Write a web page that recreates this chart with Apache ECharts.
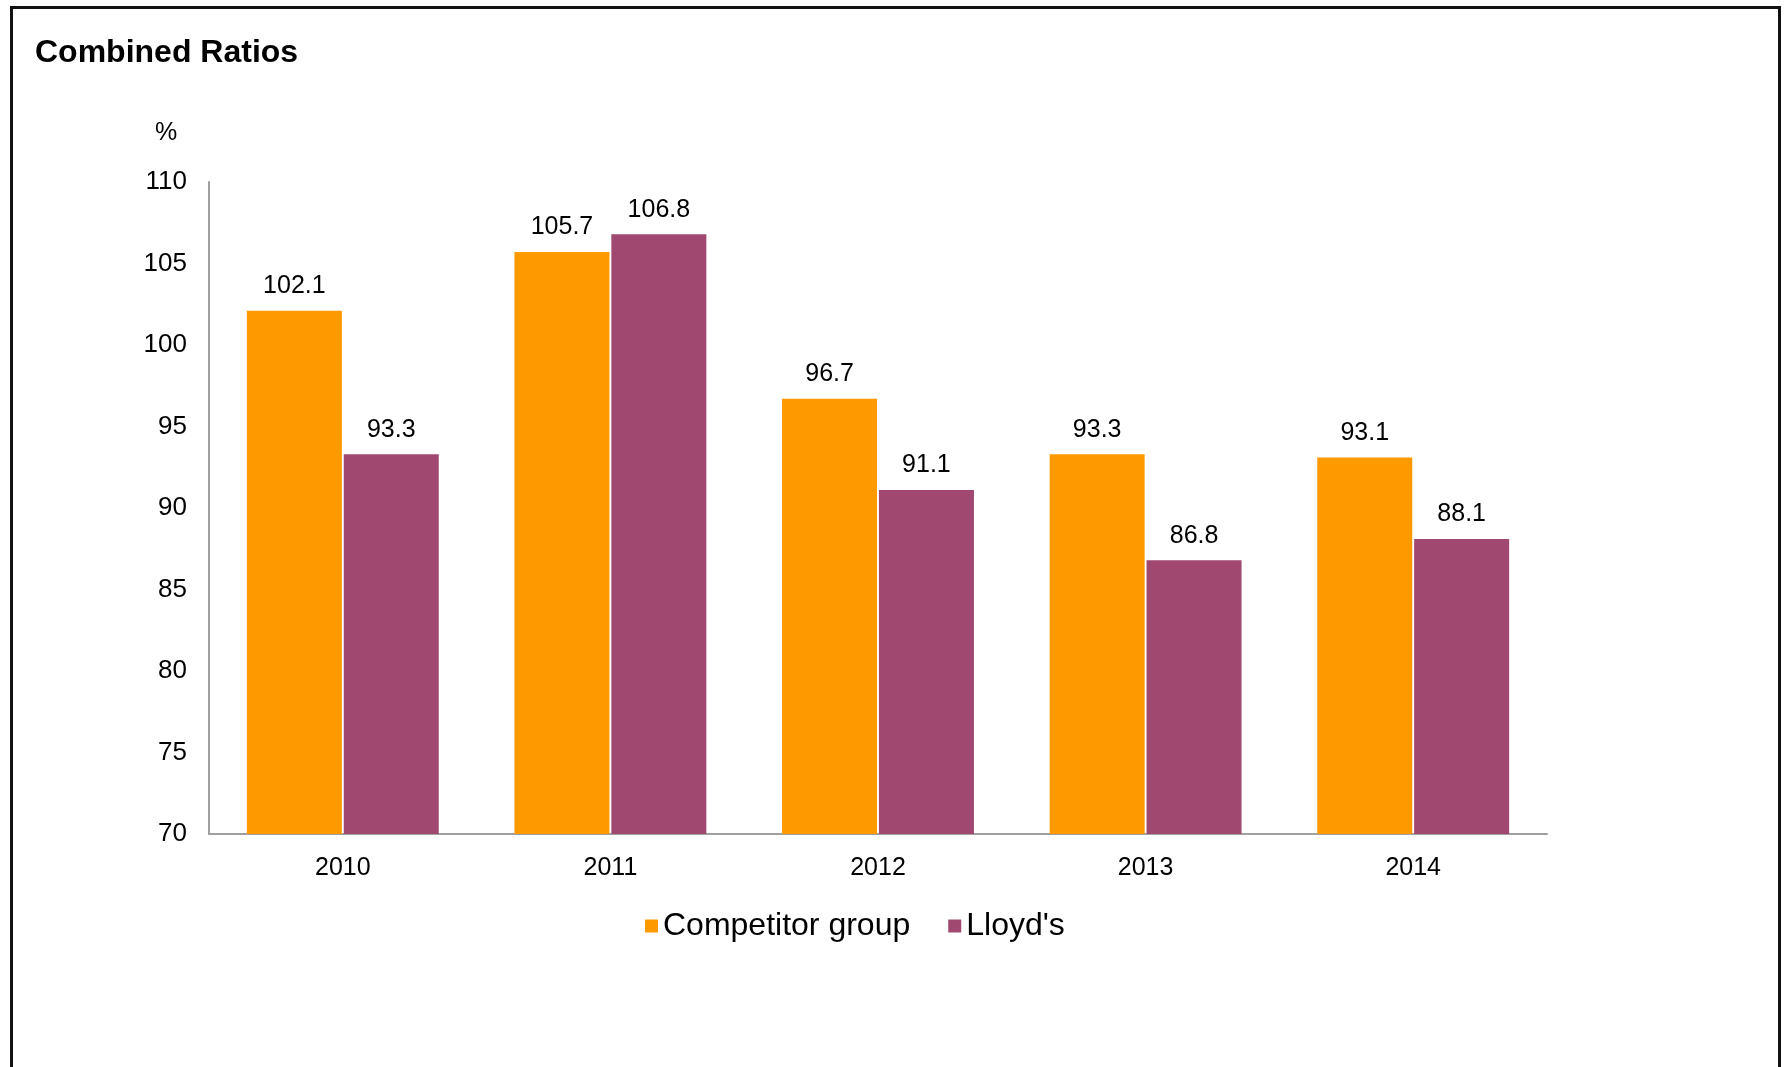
<!DOCTYPE html>
<html>
<head>
<meta charset="utf-8">
<title>Combined Ratios</title>
<script src="https://cdn.jsdelivr.net/npm/echarts@6/dist/echarts.min.js"></script>
<style>
  html, body { margin: 0; padding: 0; background: #fff; }
  #chart { width: 1787px; height: 1067px; }
</style>
</head>
<body>
<div id="chart"></div>
<script>
const years = ['2010', '2011', '2012', '2013', '2014']
const competitorGroup = [102.1, 105.7, 96.7, 93.3, 93.1]
const lloyds = [93.3, 106.8, 91.1, 86.8, 88.1]

const chart = echarts.init(document.getElementById('chart'))

const labelStyle = {
  show: true,
  position: 'top',
  distance: 12,
  color: '#000',
  fontSize: 25,
  fontFamily: 'Liberation Sans, Arial, sans-serif',
  formatter: p => p.value.toFixed(1)
}

chart.setOption({
  animation: false,
  textStyle: { fontFamily: 'Liberation Sans, Arial, sans-serif' },
  graphic: [
    {
      type: 'rect',
      shape: { x: 11.5, y: 7.5, width: 1768, height: 1100 },
      style: { fill: 'none', stroke: '#111', lineWidth: 3 }
    },
    {
      type: 'text',
      left: 35,
      top: 37,
      style: { text: 'Combined Ratios', fontSize: 32, fontWeight: 'bold', fill: '#000', fontFamily: 'Liberation Sans, Arial, sans-serif' }
    },
    {
      type: 'text',
      left: 155,
      top: 121,
      style: { text: '%', fontSize: 25, fill: '#000', fontFamily: 'Liberation Sans, Arial, sans-serif' }
    }
  ],
  legend: {
    left: 640,
    top: 905,
    icon: 'rect',
    itemWidth: 13,
    itemHeight: 13,
    itemGap: 38,
    textStyle: { fontSize: 32, color: '#000', fontFamily: 'Liberation Sans, Arial, sans-serif' },
    data: ['Competitor group', "Lloyd's"]
  },
  grid: { left: 209, right: 240, top: 182, bottom: 233 },
  xAxis: {
    type: 'category',
    data: years,
    axisLine: { lineStyle: { color: '#a0a0a0', width: 2 } },
    axisTick: { show: false },
    axisLabel: { color: '#000', fontSize: 25, margin: 22 }
  },
  yAxis: {
    type: 'value',
    min: 70,
    max: 110,
    interval: 5,
    axisLine: { show: true, lineStyle: { color: '#a0a0a0', width: 2 } },
    axisTick: { show: false },
    splitLine: { show: false },
    axisLabel: { color: '#000', fontSize: 26, margin: 22 }
  },
  series: [
    {
      name: 'Competitor group',
      type: 'bar',
      data: competitorGroup,
      barWidth: 95,
      barGap: '2%',
      itemStyle: { color: '#ff9900' },
      label: labelStyle
    },
    {
      name: "Lloyd's",
      type: 'bar',
      data: lloyds,
      barWidth: 95,
      itemStyle: { color: '#a0486f' },
      label: labelStyle
    }
  ]
})
</script>
</body>
</html>
